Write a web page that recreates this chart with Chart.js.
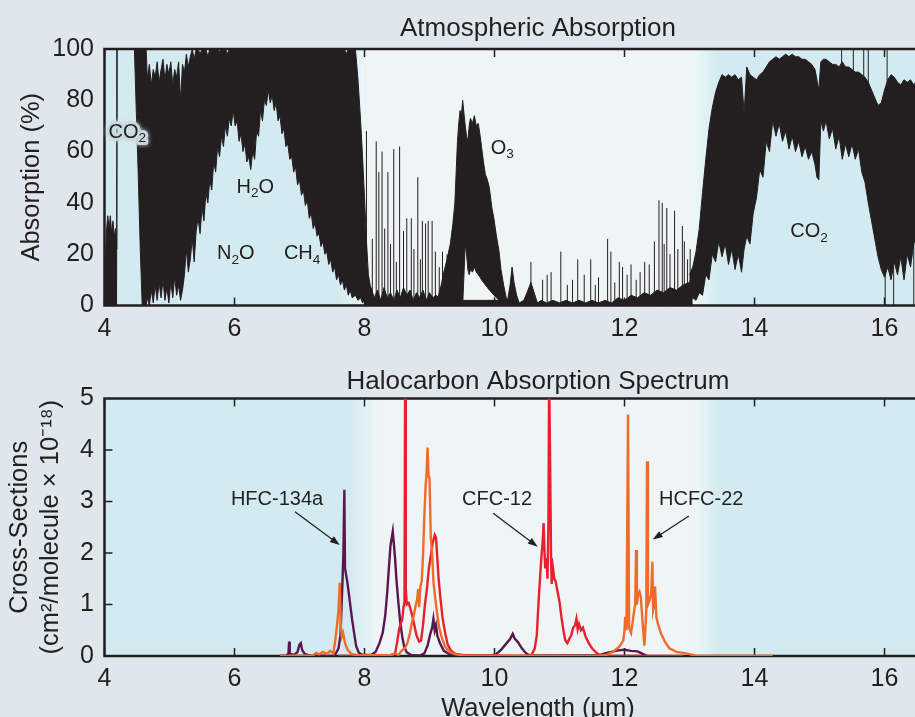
<!DOCTYPE html>
<html><head><meta charset="utf-8">
<script src="https://cdn.jsdelivr.net/npm/chart.js@4.4.1/dist/chart.umd.min.js"></script>
<style>
html,body{margin:0;padding:0;background:#dfe7ec;overflow:hidden;width:915px;height:717px;}
#wrap{position:relative;width:915px;height:717px;overflow:hidden;background:#dfe7ec;}
canvas{position:absolute;left:0;}
#c1{top:0}
#c2{top:345px}
</style></head><body><div id="wrap">
<canvas id="c1" width="1076" height="345"></canvas>
<canvas id="c2" width="1076" height="377"></canvas>
</div>
<script>
// ---------- tick labels ----------
const xTicks = [4, 6, 8, 10, 12, 14, 16];
const topYTicks = [0, 20, 40, 60, 80, 100];
const botYTicks = [0, 1, 2, 3, 4, 5];

// ---------- Atmospheric absorption (%): water band envelope ----------
const waterX = [4.00,4.02,4.03,4.05,4.07,4.09,4.11,4.13,4.15,4.17,
 4.185,4.19,4.195,4.46,4.49,4.52,4.55,4.58,4.64,4.66,
 4.69,4.72,4.75,4.78,4.81,4.84,4.87,4.90,4.93,4.96,
 4.99,5.02,5.05,5.08,5.11,5.14,5.17,5.20,5.23,5.26,
 5.29,5.32,5.35,5.38,5.41,5.44,5.47,5.50,5.53,5.56,
 5.59,5.62,5.65,5.68,5.71,5.74,5.77,5.80,5.83,5.86,
 5.89,5.92,5.95,5.98,6.01,6.04,6.07,6.10,6.13,6.16,
 6.19,6.22,6.25,6.28,6.31,6.34,6.37,6.40,6.43,6.46,
 6.49,6.52,6.55,6.58,6.61,6.64,6.67,6.70,6.73,6.76,
 6.79,6.82,6.85,6.88,6.91,6.94,6.97,7.00,7.03,7.06,
 7.09,7.12,7.15,7.18,7.21,7.24,7.27,7.30,7.33,7.36,
 7.39,7.42,7.45,7.48,7.51,7.54,7.57,7.60,7.63,7.66,
 7.69,7.72,7.75,7.78,7.81,7.86,7.90,7.94,7.97,8.00,
 8.03,8.06,8.10];
const waterHi = [0,22,29,35,30,35,28,33,27,30,
 22,100,100,100,100,100,100,100,100,88,
 94,86,92,89,95,87,92,96,88,94,
 90,95,86,92,89,95,80,94,91,98,
 93,97,100,96,100,100,98,100,100,100,
 97,100,100,100,100,100,99,100,100,100,
 98,100,100,100,100,100,100,100,100,100,
 100,100,100,100,100,100,100,100,100,100,
 100,100,100,100,100,100,100,100,100,100,
 100,100,100,100,100,100,100,100,100,100,
 100,100,100,100,100,100,100,100,100,100,
 100,100,100,100,100,100,100,100,100,100,
 100,98,100,100,100,100,88,72,58,42,
 25,12,6];
const waterLo = [0,0,0,0,0,0,0,0,0,0,
 0,0,100,100,75,50,22,0,0,3,
 0,6,1,8,2,9,3,10,2,7,
 1,9,3,11,4,8,2,6,12,22,
 13,18,26,17,29,34,28,38,33,44,
 40,49,45,56,52,62,58,66,62,70,
 66,73,70,76,70,72,64,67,60,63,
 56,58,53,60,57,68,66,76,72,80,
 78,84,79,82,76,79,72,74,67,69,
 62,63,57,58,52,54,47,49,43,45,
 39,41,34,36,30,32,27,28,23,25,
 20,21,16,18,13,15,10,12,8,10,
 6,8,4,6,3,4,2,3,1,2,
 1,0,0];

// ---------- ozone band ----------
const ozoneX = [9.12,9.18,9.22,9.27,9.32,9.36,9.39,9.41,9.43,9.45,
 9.47,9.49,9.51,9.53,9.55,9.57,9.59,9.61,9.63,9.66,
 9.69,9.72,9.75,9.78,9.80,9.83,9.86,9.89,9.92,9.96,
 9.99,10.03,10.07,10.10,10.14,10.18,10.22];
const ozoneHi = [2,8,13,18,24,32,40,52,64,71,
 76,74,80,75,70,66,64,70,73,71,
 74,70,71,66,62,56,51,49,46,38,
 34,27,21,14,8,3,1];
const ozoneLo = [0,0,0,0,0,0,0,0,0,0,
 0,0,0,12,24,20,14,12,14,13,
 15,13,12,11,10,9,8,7,6,5,
 4,3,2,1,0,0,0];

// ---------- CO2 15 µm band ----------
const co2X = [13.00,13.05,13.10,13.15,13.20,13.25,13.30,13.35,13.40,13.45,
 13.50,13.55,13.60,13.65,13.70,13.75,13.80,13.84,13.88,13.93,
 13.98,14.03,14.08,14.13,14.18,14.23,14.28,14.33,14.38,14.43,
 14.48,14.53,14.58,14.63,14.68,14.73,14.78,14.83,14.88,14.93,
 14.96,14.99,15.02,15.06,15.10,15.15,15.20,15.25,15.30,15.35,
 15.40,15.45,15.50,15.55,15.60,15.65,15.70,15.75,15.80,15.85,
 15.90,15.95,16.00,16.05,16.10,16.15,16.20,16.25,16.30,16.35,
 16.40,16.45,16.50,16.60,16.80,17.00,17.40];
const co2Hi = [12,15,21,30,44,57,69,77,83,87,
 90,89,90,89,90,88,89,75,93,90,
 89,88,90,91,93,95,96,97,96,97,
 98,97,98,97,97,96,96,95,94,92,
 88,84,95,96,96,95,94,94,93,95,
 93,93,92,91,91,90,89,87,84,81,
 78,79,84,88,90,89,87,86,88,87,
 88,86,88,86,85,84,84];
const co2Lo = [1,3,2,5,4,12,10,20,17,25,
 19,24,16,22,14,20,13,22,27,24,
 36,42,53,50,64,60,72,66,71,64,
 68,61,66,60,64,58,62,57,60,55,
 50,49,72,68,72,65,69,61,66,57,
 63,58,63,57,61,52,48,40,33,26,
 19,14,11,15,10,17,12,19,10,20,
 15,24,28,30,32,30,30];

// ---------- window baseline ----------
const baseX = [8.00,8.05,8.10,8.15,8.20,8.25,8.30,8.35,8.40,8.45,
 8.50,8.55,8.60,8.65,8.70,8.75,8.80,8.85,8.90,8.95,
 9.00,9.05,9.10,9.20,9.30,9.40,9.50,9.60,9.70,9.80,
 9.90,10.00,10.10,10.15,10.20,10.24,10.27,10.30,10.34,10.38,
 10.45,10.50,10.56,10.61,10.66,10.72,10.80,10.90,11.00,11.10,
 11.20,11.30,11.40,11.50,11.60,11.70,11.80,11.90,12.00,12.10,
 12.20,12.30,12.40,12.50,12.60,12.70,12.80,12.90,13.00,13.05];
const baseHi = [6,4,7,3,6,2,7,3,5,2,
 6,3,7,4,6,2,5,3,6,2,
 5,3,4,2,3,2,2,2,2,2,
 2,2,2,1,2,8,15,9,4,1,
 2,5,9,5,1,2,1,2,1,2,
 1,2,1,2,1,2,1,3,2,4,
 3,5,4,6,5,7,6,8,9,12];

// ---------- isolated absorption lines ----------
const spikeX = [8.03,8.12,8.18,8.22,8.27,8.31,8.36,8.40,8.45,8.49,
 8.54,8.60,8.65,8.72,8.76,8.82,8.86,8.89,8.94,8.98,
 9.04,9.09,9.15,9.20,9.27,10.56,10.74,10.81,10.87,11.02,
 11.12,11.20,11.28,11.38,11.48,11.55,11.60,11.74,11.79,11.85,
 11.92,11.97,12.04,12.10,12.18,12.24,12.31,12.38,12.46,12.53,
 12.58,12.61,12.65,12.70,12.77,12.82,12.89,12.92,12.97,13.01,
 15.34,15.52,15.68,15.75,16.04,16.01,16.14,16.45];
const spikeLow = [0,0,0,0,0,0,0,0,0,0,
 0,0,0,0,0,0,0,0,0,0,
 0,0,0,0,0,0,0,0,0,0,
 0,0,0,0,0,0,0,0,0,0,
 0,0,0,0,0,0,0,0,0,0,
 0,0,0,0,0,0,0,0,0,0,
 85,85,85,82,80,0,0,0];
const spikeHigh = [68,26,64,52,60,30,52,24,61,17,
 62,29,34,34,22,50,18,33,32,33,
 33,21,15,21,20,17,10,12,13,21,
 8,10,18,12,18,8,11,26,21,9,
 17,15,12,16,10,13,17,16,25,41,
 40,24,38,20,37,22,31,25,18,22,
 100,100,100,100,100,20,15,25];

// ---------- Halocarbon cross-sections (1e-18 cm2/molecule) ----------
const hfcX = [6.70,6.80,6.83,6.84,6.85,6.92,6.97,7.00,7.02,7.04,
 7.08,7.15,7.50,7.55,7.60,7.63,7.66,7.675,7.69,7.70,
 7.72,7.74,7.76,7.78,7.81,7.84,7.87,7.91,7.97,8.10,
 8.17,8.23,8.28,8.32,8.35,8.38,8.40,8.42,8.435,8.45,
 8.47,8.49,8.52,8.55,8.58,8.61,8.65,8.72,8.85,8.92,
 8.97,9.01,9.04,9.06,9.08,9.10,9.12,9.16,9.22,9.30,
 9.45,9.65,9.95,10.02,10.10,10.18,10.24,10.28,10.31,10.36,
 10.42,10.48,10.54,11.60,11.70,11.80,11.90,12.00,12.10,12.20,
 12.28,12.35];
const hfcY = [0,0.01,0.05,0.28,0.04,0.02,0.08,0.22,0.25,0.12,
 0.04,0.01,0,0.03,0.15,0.4,1.4,2.0,3.23,1.7,
 1.55,1.4,1.2,1.0,0.7,0.45,0.2,0.07,0.02,0.02,
 0.08,0.25,0.45,0.8,1.25,1.8,2.15,2.3,2.42,2.2,
 1.9,1.5,1.05,0.65,0.38,0.18,0.07,0.02,0.01,0.05,
 0.2,0.42,0.55,0.72,0.5,0.6,0.4,0.25,0.1,0.04,
 0.02,0.01,0.01,0.03,0.12,0.24,0.33,0.43,0.34,0.27,
 0.15,0.06,0.01,0.01,0.05,0.08,0.11,0.12,0.10,0.09,
 0.04,0];

const cfcX = [7.60,8.40,8.47,8.50,8.53,8.56,8.58,8.60,8.615,8.625,
 8.635,8.65,8.68,8.70,8.73,8.76,8.80,8.84,8.87,8.90,
 8.93,8.96,8.99,9.02,9.05,9.08,9.10,9.12,9.14,9.17,
 9.20,9.24,9.28,9.33,9.40,9.55,10.55,10.58,10.62,10.65,
 10.68,10.70,10.72,10.74,10.755,10.77,10.78,10.80,10.815,10.83,
 10.84,10.855,10.87,10.88,10.90,10.92,10.94,10.97,11.00,11.03,
 11.06,11.09,11.12,11.15,11.18,11.21,11.24,11.26,11.28,11.30,
 11.33,11.36,11.40,11.45,11.50,11.56,11.62,11.70,12.90];
const cfcY = [0,0.01,0.05,0.25,0.5,0.65,0.7,0.95,1.05,5.5,
 1.3,1.0,1.03,0.95,0.8,0.64,0.4,0.28,0.3,0.6,
 1.0,1.3,1.7,1.95,2.2,2.35,2.3,1.9,1.5,1.1,
 0.75,0.45,0.22,0.1,0.04,0.01,0,0.05,0.15,0.4,
 1.1,1.5,1.9,2.2,2.58,2.0,1.7,1.9,1.5,2.6,
 5.5,3.8,1.9,1.4,1.7,1.5,1.45,1.25,1.05,0.75,
 0.5,0.3,0.25,0.33,0.4,0.55,0.6,0.72,0.52,0.62,
 0.5,0.55,0.38,0.25,0.15,0.07,0.02,0,0];

const hcfcX = [6.70,7.20,7.26,7.30,7.36,7.42,7.47,7.52,7.55,7.58,
 7.60,7.62,7.635,7.65,7.67,7.70,7.74,7.80,7.90,8.40,
 8.47,8.52,8.57,8.62,8.66,8.70,8.73,8.76,8.79,8.81,
 8.825,8.84,8.86,8.88,8.90,8.92,8.94,8.955,8.97,8.985,
 9.00,9.02,9.04,9.06,9.09,9.12,9.15,9.19,9.24,9.30,
 9.38,9.50,11.60,11.72,11.82,11.92,11.98,12.00,12.01,12.03,
 12.054,12.07,12.10,12.13,12.15,12.165,12.177,12.19,12.21,12.23,
 12.25,12.27,12.29,12.305,12.32,12.335,12.346,12.36,12.39,12.41,
 12.428,12.44,12.455,12.47,12.49,12.52,12.56,12.62,12.69,12.80,
 12.95,13.05,13.10,14.28];
const hcfcY = [0,0.01,0.06,0.03,0.08,0.04,0.1,0.05,0.3,0.64,
 0.9,1.42,0.6,0.38,0.45,0.25,0.12,0.04,0.01,0.02,
 0.05,0.02,0.1,0.15,0.25,0.45,0.65,0.8,1.0,1.1,
 1.3,0.95,1.35,1.45,1.95,2.7,3.3,3.55,4.05,3.5,
 3.45,2.3,2.0,1.45,1.1,0.8,0.55,0.35,0.18,0.08,
 0.04,0.01,0,0.02,0.08,0.18,0.3,0.5,0.76,0.5,
 4.69,0.55,0.45,0.7,0.9,1.0,2.06,1.0,1.2,1.25,
 1.15,0.8,0.45,0.2,0.5,0.9,3.78,1.0,1.1,1.2,
 1.83,0.9,1.0,1.35,0.75,0.6,0.44,0.28,0.15,0.08,
 0.05,0.02,0,0];

// ---------- styling / layout (not data) ----------
const ink = '#231f20';
const FONT = '"Liberation Sans", Arial, Helvetica, sans-serif';
const CYAN = '#d3ebf0', FADE = '#edf7f9', WIN = '#eff4f5';
const X_MAX = 17.338;
Chart.defaults.font.family = FONT;
Chart.defaults.color = ink;

const pts = (xs, ys) => xs.map((x, i) => ({x, y: ys[i]}));
const spikeData = [];
spikeX.forEach((x, i) => { spikeData.push({x, y: spikeLow[i]}, {x, y: spikeHigh[i]}, {x, y: null}); });

function bandPlugin(b, yTickVals) {
  return {
    id: 'bands',
    beforeDatasetsDraw(chart) {
      const {ctx, chartArea: {left, right, top, bottom}, scales: {x, y}} = chart;
      const p = v => x.getPixelForValue(v);
      const h = bottom - top;
      ctx.save();
      ctx.fillStyle = CYAN; ctx.fillRect(left, top, right - left, h);
      let g = ctx.createLinearGradient(p(b.fadeStart), 0, p(b.windowStart), 0);
      g.addColorStop(0, CYAN); g.addColorStop(1, FADE);
      ctx.fillStyle = g; ctx.fillRect(p(b.fadeStart), top, p(b.windowStart) - p(b.fadeStart), h);
      ctx.fillStyle = WIN; ctx.fillRect(p(b.windowStart), top, p(b.windowEnd) - p(b.windowStart), h);
      g = ctx.createLinearGradient(p(b.windowEnd), 0, p(b.fadeEnd), 0);
      g.addColorStop(0, FADE); g.addColorStop(1, CYAN);
      ctx.fillStyle = g; ctx.fillRect(p(b.windowEnd), top, p(b.fadeEnd) - p(b.windowEnd), h);
      ctx.strokeStyle = ink; ctx.lineWidth = 1.5;
      ctx.beginPath();
      xTicks.forEach(v => { const px = p(v); ctx.moveTo(px, bottom); ctx.lineTo(px, bottom - 8); ctx.moveTo(px, top); ctx.lineTo(px, top + 8); });
      (yTickVals || []).forEach(v => { const py = y.getPixelForValue(v); ctx.moveTo(left, py); ctx.lineTo(left + 8, py); });
      ctx.stroke();
      ctx.lineWidth = 2.5; ctx.strokeRect(left, top, right - left, h);
      ctx.restore();
    }
  };
}

function drawChem(ctx, parts, cx, cy, size, halo) {
  const sub = size * 0.68;
  const widths = parts.map(([t, s]) => { ctx.font = `${s ? sub : size}px ${FONT}`; return ctx.measureText(t).width; });
  const total = widths.reduce((a, b) => a + b, 0);
  ctx.textBaseline = 'middle'; ctx.textAlign = 'left';
  const pass = (stroke) => {
    let x = cx - total / 2;
    parts.forEach(([t, s], i) => {
      ctx.font = `${s ? sub : size}px ${FONT}`;
      const y = s ? cy + size * 0.3 : cy;
      if (stroke) ctx.strokeText(t, x, y); else ctx.fillText(t, x, y);
      x += widths[i];
    });
  };
  if (halo) {
    ctx.save();
    ctx.strokeStyle = 'rgba(200,218,221,0.95)'; ctx.lineWidth = 6; ctx.lineJoin = 'round';
    ctx.shadowColor = 'rgba(200,218,221,1)'; ctx.shadowBlur = 4;
    pass(true);
    ctx.restore();
  }
  ctx.fillStyle = ink; pass(false);
}

const topLabels = [
  {parts: [['CO', 0], ['2', 1]], x: 4.35, y: 67.5, halo: true},
  {parts: [['H', 0], ['2', 1], ['O', 0]], x: 6.32, y: 46.2},
  {parts: [['N', 0], ['2', 1], ['O', 0]], x: 6.02, y: 20.1},
  {parts: [['CH', 0], ['4', 1]], x: 7.04, y: 20.1},
  {parts: [['O', 0], ['3', 1]], x: 10.12, y: 61.4},
  {parts: [['CO', 0], ['2', 1]], x: 14.84, y: 28.7}
];
const botLabels = [
  {text: 'HFC-134a', x: 6.654, y: 3.03, from: [6.93, 2.80], to: [7.62, 2.155]},
  {text: 'CFC-12', x: 10.04, y: 3.03, from: [9.98, 2.77], to: [10.665, 2.12]},
  {text: 'HCFC-22', x: 13.18, y: 3.03, from: [12.99, 2.72], to: [12.434, 2.26]}
];

const topLabelPlugin = {
  id: 'topLabels',
  afterDatasetsDraw(chart) {
    const {ctx, scales: {x, y}} = chart;
    ctx.save();
    topLabels.forEach(l => drawChem(ctx, l.parts, x.getPixelForValue(l.x), y.getPixelForValue(l.y), 20, l.halo));
    ctx.restore();
  }
};
const botLabelPlugin = {
  id: 'botLabels',
  afterDatasetsDraw(chart) {
    const {ctx, scales: {x, y}} = chart;
    ctx.save();
    ctx.fillStyle = ink; ctx.strokeStyle = ink;
    ctx.font = `20px ${FONT}`; ctx.textAlign = 'center'; ctx.textBaseline = 'middle';
    botLabels.forEach(l => {
      ctx.fillText(l.text, x.getPixelForValue(l.x), y.getPixelForValue(l.y));
      const x0 = x.getPixelForValue(l.from[0]), y0 = y.getPixelForValue(l.from[1]);
      const x1 = x.getPixelForValue(l.to[0]), y1 = y.getPixelForValue(l.to[1]);
      const a = Math.atan2(y1 - y0, x1 - x0);
      const hl = 10, hw = 3.5;
      ctx.lineWidth = 1.3;
      ctx.beginPath(); ctx.moveTo(x0, y0); ctx.lineTo(x1 - hl * 0.8 * Math.cos(a), y1 - hl * 0.8 * Math.sin(a)); ctx.stroke();
      ctx.beginPath();
      ctx.moveTo(x1, y1);
      ctx.lineTo(x1 - hl * Math.cos(a) + hw * Math.sin(a), y1 - hl * Math.sin(a) - hw * Math.cos(a));
      ctx.lineTo(x1 - hl * Math.cos(a) - hw * Math.sin(a), y1 - hl * Math.sin(a) + hw * Math.cos(a));
      ctx.closePath(); ctx.fill();
    });
    ctx.restore();
  }
};

const setTicks = vals => s => { s.ticks = vals.map(v => ({value: v})); };
const xScale = (h, title) => ({
  type: 'linear', min: 4, max: X_MAX,
  afterBuildTicks: setTicks(xTicks),
  afterFit: s => { s.height = h; },
  grid: {display: false, drawTicks: false}, border: {display: false},
  ticks: {color: ink, font: {size: 25}, padding: 8.5, maxRotation: 0, autoSkip: false},
  title: title ? {display: true, text: title, color: ink, font: {size: 25.5, lineHeight: 1}, padding: {top: 0, bottom: 0}} : {display: false}
});
const dummyRight = {
  position: 'right', display: true, min: 0, max: 1,
  grid: {display: false, drawTicks: false}, border: {display: false}, ticks: {display: false},
  afterFit: s => { s.width = 104.5; }
};
const lineDs = (data, extra) => Object.assign({data, borderColor: ink, backgroundColor: ink, borderWidth: 1, pointRadius: 0, tension: 0, fill: false}, extra || {});

new Chart(document.getElementById('c1'), {
  type: 'line',
  data: {datasets: [
    lineDs(pts(waterX, waterLo)),
    lineDs(pts(waterX, waterHi), {fill: '-1'}),
    lineDs(pts(ozoneX, ozoneLo)),
    lineDs(pts(ozoneX, ozoneHi), {fill: '-1'}),
    lineDs(pts(co2X, co2Lo)),
    lineDs(pts(co2X, co2Hi), {fill: '-1'}),
    lineDs(pts(baseX, baseHi), {fill: 'origin'}),
    lineDs(spikeData, {spanGaps: false})
  ]},
  options: {
    responsive: false, animation: false, events: [],
    layout: {padding: 0},
    plugins: {
      legend: {display: false}, tooltip: {enabled: false},
      title: {display: true, text: 'Atmospheric Absorption', color: ink, font: {size: 26, weight: 'normal', lineHeight: 1.2}, padding: {top: 13.4, bottom: 4.4}}
    },
    scales: {
      x: xScale(39.5, null),
      y: {
        min: 0, max: 100, afterBuildTicks: setTicks(topYTicks), afterFit: s => { s.width = 104.5; },
        grid: {display: false, drawTicks: false}, border: {display: false},
        ticks: {color: ink, font: {size: 25}, padding: 10.5},
        title: {display: true, text: 'Absorption (%)', color: ink, font: {size: 25.5, lineHeight: 1.2}, padding: {top: 16.7, bottom: 0}}
      },
      yR: dummyRight
    }
  },
  plugins: [bandPlugin({fadeStart: 7.62, windowStart: 8.01, windowEnd: 13.07, fadeEnd: 13.45}, null), topLabelPlugin]
});

new Chart(document.getElementById('c2'), {
  type: 'line',
  data: {datasets: [
    {label: 'HCFC-22', data: pts(hcfcX, hcfcY), borderColor: '#ef6b2b', borderWidth: 2.4, pointRadius: 0, tension: 0, fill: false, order: 1},
    {label: 'CFC-12', data: pts(cfcX, cfcY), borderColor: '#e8202e', borderWidth: 2.4, pointRadius: 0, tension: 0, fill: false, order: 2},
    {label: 'HFC-134a', data: pts(hfcX, hfcY), borderColor: '#5b1651', borderWidth: 2.4, pointRadius: 0, tension: 0, fill: false, order: 3}
  ]},
  options: {
    responsive: false, animation: false, events: [],
    layout: {padding: 0},
    plugins: {
      legend: {display: false}, tooltip: {enabled: false},
      title: {display: true, text: 'Halocarbon Absorption Spectrum', color: ink, font: {size: 26, weight: 'normal', lineHeight: 1.2}, padding: {top: 21.4, bottom: 0.9}}
    },
    scales: {
      x: xScale(66, 'Wavelength (µm)'),
      y: {
        min: 0, max: 5, afterBuildTicks: setTicks(botYTicks), afterFit: s => { s.width = 104.5; },
        grid: {display: false, drawTicks: false}, border: {display: false},
        ticks: {color: ink, font: {size: 25}, padding: 10.5},
        title: {display: true, text: ['Cross-Sections', '(cm²/molecule × 10⁻¹⁸)'], color: ink, font: {size: 25.5, lineHeight: 1.2}, padding: {top: 4.7, bottom: 0}}
      },
      yR: dummyRight
    }
  },
  plugins: [bandPlugin({fadeStart: 7.78, windowStart: 8.19, windowEnd: 13.08, fadeEnd: 13.45}, [1, 2, 3, 4]), botLabelPlugin]
});
</script></body></html>
